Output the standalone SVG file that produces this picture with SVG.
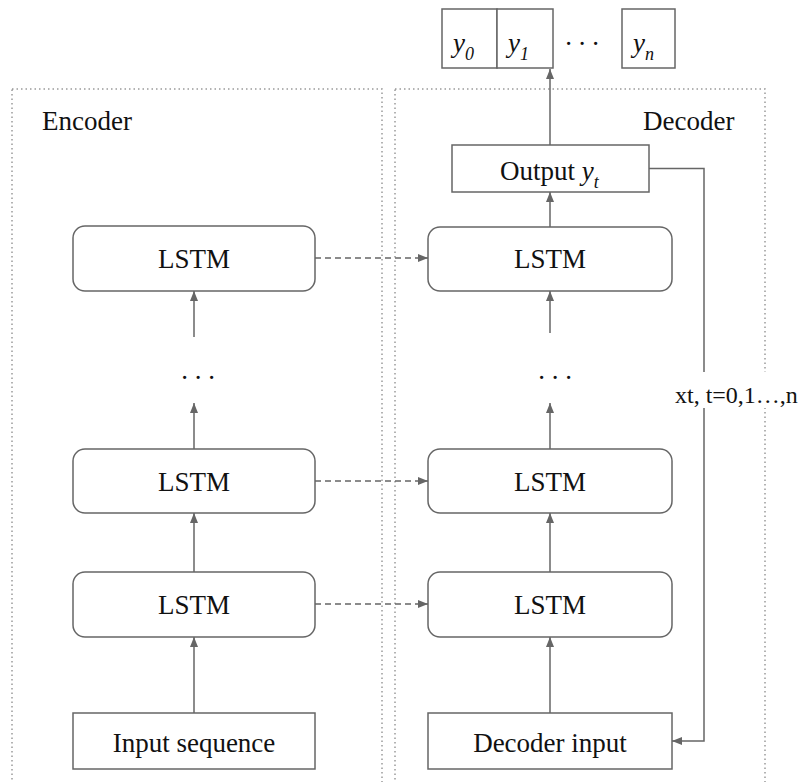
<svg xmlns="http://www.w3.org/2000/svg" width="803" height="782" viewBox="0 0 803 782">
  <style>
    .region { fill: none; stroke: #9a9a9a; stroke-width: 1.5; stroke-dasharray: 1.5 3; }
    .box { fill: #ffffff; stroke: #666666; stroke-width: 1.5; }
    .lbl { font-family: "Liberation Serif", "Times New Roman", serif; font-size: 27px; fill: #111111; }
    .mid { text-anchor: middle; }
    .it { font-style: italic; }
    .edge { fill: none; stroke: #666666; stroke-width: 1.5; }
    .dash { stroke-dasharray: 6 4; }
  </style>
  <defs>
    <marker id="arrow" viewBox="0 0 10 8" refX="10" refY="4" markerWidth="10" markerHeight="8" markerUnits="userSpaceOnUse" orient="auto">
      <path d="M0,0 L10,4 L0,8 z" fill="#666666"/>
    </marker>
  </defs>

  <!-- encoder / decoder regions -->
  <g id="encoder-region">
    <rect class="region" x="12" y="89" width="370" height="720"/>
    <text class="lbl" x="42" y="130">Encoder</text>
  </g>
  <g id="decoder-region">
    <rect class="region" x="395" y="89" width="370" height="720"/>
    <text class="lbl" x="643" y="130">Decoder</text>
  </g>

  <!-- connectors -->
  <g id="connectors">
    <!-- encoder stack -->
    <line class="edge" x1="194" y1="713" x2="194" y2="637" marker-end="url(#arrow)"/>
    <line class="edge" x1="194" y1="572" x2="194" y2="513" marker-end="url(#arrow)"/>
    <line class="edge" x1="194" y1="449" x2="194" y2="403" marker-end="url(#arrow)"/>
    <line class="edge" x1="194" y1="337" x2="194" y2="291" marker-end="url(#arrow)"/>
    <!-- decoder stack -->
    <line class="edge" x1="550" y1="713" x2="550" y2="637" marker-end="url(#arrow)"/>
    <line class="edge" x1="550" y1="572" x2="550" y2="513" marker-end="url(#arrow)"/>
    <line class="edge" x1="550" y1="449" x2="550" y2="403" marker-end="url(#arrow)"/>
    <line class="edge" x1="550" y1="333" x2="550" y2="291" marker-end="url(#arrow)"/>
    <line class="edge" x1="550" y1="227" x2="550" y2="192" marker-end="url(#arrow)"/>
    <line class="edge" x1="550" y1="145" x2="550" y2="69" marker-end="url(#arrow)"/>
    <!-- state handoff -->
    <line class="edge dash" x1="315" y1="258" x2="428" y2="258" marker-end="url(#arrow)"/>
    <line class="edge dash" x1="315" y1="481" x2="428" y2="481" marker-end="url(#arrow)"/>
    <line class="edge dash" x1="315" y1="604" x2="428" y2="604" marker-end="url(#arrow)"/>
    <!-- feedback loop -->
    <path class="edge" d="M649,168.5 H704 V741 H672" marker-end="url(#arrow)"/>
    <rect x="672" y="372" width="131" height="36" fill="#ffffff"/>
    <text class="lbl" x="675" y="403" style="font-size:24px">xt, t=0,1…,n</text>
  </g>

  <!-- output sequence -->
  <g id="y0">
    <rect class="box" x="442" y="9" width="55" height="59"/>
    <text class="lbl it" x="453" y="52">y<tspan font-size="18" dy="8">0</tspan></text>
  </g>
  <g id="y1">
    <rect class="box" x="497" y="9" width="56" height="59"/>
    <text class="lbl it" x="508" y="52">y<tspan font-size="18" dy="8">1</tspan></text>
  </g>
  <g id="ydots">
    <text class="lbl mid" x="582" y="45">. . .</text>
  </g>
  <g id="yn">
    <rect class="box" x="622" y="9" width="53" height="59"/>
    <text class="lbl it" x="633" y="52">y<tspan font-size="18" dy="8">n</tspan></text>
  </g>

  <!-- decoder output -->
  <g id="output">
    <rect class="box" x="452" y="145" width="197" height="47"/>
    <text class="lbl" x="500" y="180">Output <tspan class="it">y</tspan><tspan class="it" font-size="18" dy="8">t</tspan></text>
  </g>

  <!-- encoder nodes -->
  <g id="enc-lstm-top">
    <rect class="box" x="73" y="226" width="242" height="65" rx="12"/>
    <text class="lbl mid" x="194" y="268">LSTM</text>
  </g>
  <g id="enc-dots">
    <text class="lbl mid" x="198" y="379">. . .</text>
  </g>
  <g id="enc-lstm-2">
    <rect class="box" x="73" y="449" width="242" height="64" rx="12"/>
    <text class="lbl mid" x="194" y="491">LSTM</text>
  </g>
  <g id="enc-lstm-1">
    <rect class="box" x="73" y="572" width="242" height="65" rx="12"/>
    <text class="lbl mid" x="194" y="614">LSTM</text>
  </g>
  <g id="enc-input">
    <rect class="box" x="73" y="713" width="242" height="56"/>
    <text class="lbl mid" x="194" y="752">Input sequence</text>
  </g>

  <!-- decoder nodes -->
  <g id="dec-lstm-top">
    <rect class="box" x="428" y="227" width="244" height="64" rx="12"/>
    <text class="lbl mid" x="550" y="268">LSTM</text>
  </g>
  <g id="dec-dots">
    <text class="lbl mid" x="555" y="379">. . .</text>
  </g>
  <g id="dec-lstm-2">
    <rect class="box" x="428" y="449" width="244" height="64" rx="12"/>
    <text class="lbl mid" x="550" y="491">LSTM</text>
  </g>
  <g id="dec-lstm-1">
    <rect class="box" x="428" y="572" width="244" height="65" rx="12"/>
    <text class="lbl mid" x="550" y="614">LSTM</text>
  </g>
  <g id="dec-input">
    <rect class="box" x="428" y="713" width="244" height="56"/>
    <text class="lbl mid" x="550" y="752">Decoder input</text>
  </g>
</svg>
